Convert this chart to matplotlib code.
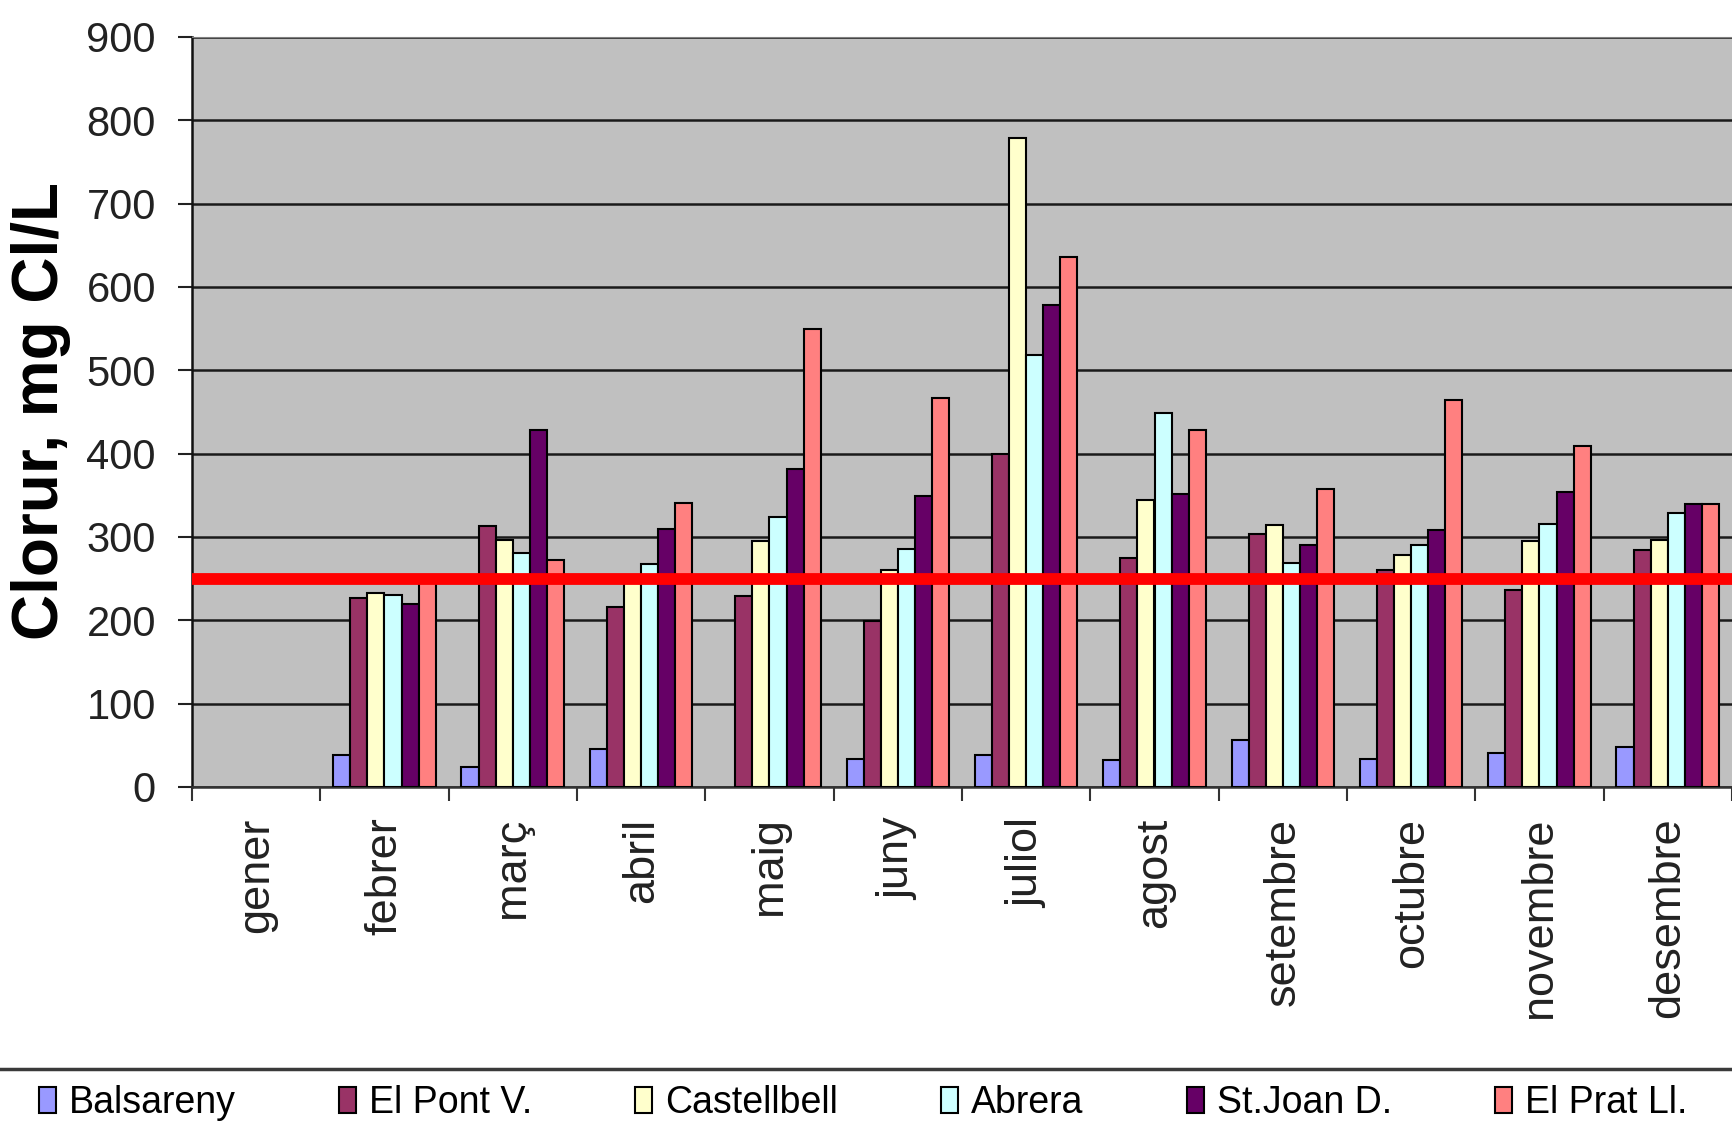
import numpy as np
import matplotlib
matplotlib.use("Agg")
import matplotlib.pyplot as plt
from matplotlib.lines import Line2D

plt.rcParams['font.family'] = ['Liberation Sans', 'DejaVu Sans']

months = ["gener", "febrer", "març", "abril", "maig", "juny",
          "juliol", "agost", "setembre", "octubre", "novembre", "desembre"]

stations = ["Balsareny", "El Pont V.", "Castellbell", "Abrera", "St.Joan D.", "El Prat Ll."]

nan = np.nan
balsareny   = [nan, 38, 24, 46, nan, 34, 39, 33, 57, 34, 41, 48]
el_pont     = [nan, 227, 313, 216, 229, 199, 400, 275, 304, 260, 236, 284]
castellbell = [nan, 233, 297, 248, 295, 261, 779, 345, 315, 278, 295, 296]
abrera      = [nan, 230, 281, 268, 324, 286, 518, 449, 269, 291, 316, 329]
st_joan     = [nan, 220, 428, 310, 382, 349, 578, 352, 291, 309, 354, 340]
el_prat     = [nan, 248, 272, 341, 550, 467, 636, 428, 358, 464, 409, 340]

series = [balsareny, el_pont, castellbell, abrera, st_joan, el_prat]
colors = ["#9999FF", "#993366", "#FFFFCC", "#CCFFFF", "#660066", "#FF8080"]

limit_value = 250
yticks = list(range(0, 1000, 100))

W, H = 1732, 1127
fig = plt.figure(figsize=(W / 100, H / 100), dpi=100)
fig.patch.set_facecolor("white")

left_px, top_px, bottom_px = 192, 37, 787
ax = fig.add_axes([left_px / W, 1 - bottom_px / H, 1 - left_px / W, (bottom_px - top_px) / H])
ax.set_facecolor("#C0C0C0")

x = np.arange(len(months))
n = len(series)
bar_w = 1 / 7.5
for i, (vals, col, name) in enumerate(zip(series, colors, stations)):
    offs = (i - (n - 1) / 2) * bar_w
    ax.bar(x + offs, vals, width=bar_w, color=col, edgecolor="black",
           linewidth=1.5, label=name, zorder=3)

ax.axhline(limit_value, color="#FF0000", linewidth=8.5, zorder=4)

ax.set_ylim(0, 900)
ax.set_xlim(-0.5, 11.48)
ax.set_yticks(yticks)
ax.yaxis.grid(True, color="#1a1a1a", linewidth=1.8, zorder=1)
ax.set_axisbelow(True)

# category boundaries carry tick marks; names sit at the centres
ax.set_xticks(np.arange(-0.5, 12, 1))
ax.set_xticklabels([])
ax.set_xticks(x, minor=True)
ax.set_xticklabels(months, minor=True, rotation=90, fontsize=32.5, color="#222222",
                   va="top", ha="center")
ax.tick_params(axis="x", which="major", length=10, width=1.5, color="#333333")
ax.tick_params(axis="x", which="minor", length=0, pad=22)
ax.tick_params(axis="y", length=10, width=1.5, color="#222222", pad=16,
               labelsize=30, labelcolor="#222222")

ax.spines["right"].set_visible(False)
ax.spines["top"].set_color("#808080")
ax.spines["left"].set_color("#111111")
ax.spines["left"].set_linewidth(1.8)
ax.spines["bottom"].set_color("#333333")
ax.spines["bottom"].set_linewidth(1.8)

ylab = ax.set_ylabel("Clorur, mg Cl/L", fontsize=46, fontweight="bold", color="black")
ylab.set_va("center")
ax.yaxis.set_label_coords(41 / W, 1 - 411 / H, transform=fig.transFigure)

# separator above the legend
fig.add_artist(Line2D([0, 1], [1 - 1069 / H, 1 - 1069 / H], transform=fig.transFigure,
                      color="#3a3a3a", linewidth=2.5))

handles, labels = ax.get_legend_handles_labels()
fig.legend(handles, labels, loc="center left", bbox_to_anchor=(39 / W, 1 - 1103 / H),
           ncol=6, frameon=False, fontsize=27, handlelength=0.45, handleheight=0.7,
           handletextpad=0.35, columnspacing=2.75, borderpad=0, borderaxespad=0)

fig.savefig("out.png", dpi=100)
